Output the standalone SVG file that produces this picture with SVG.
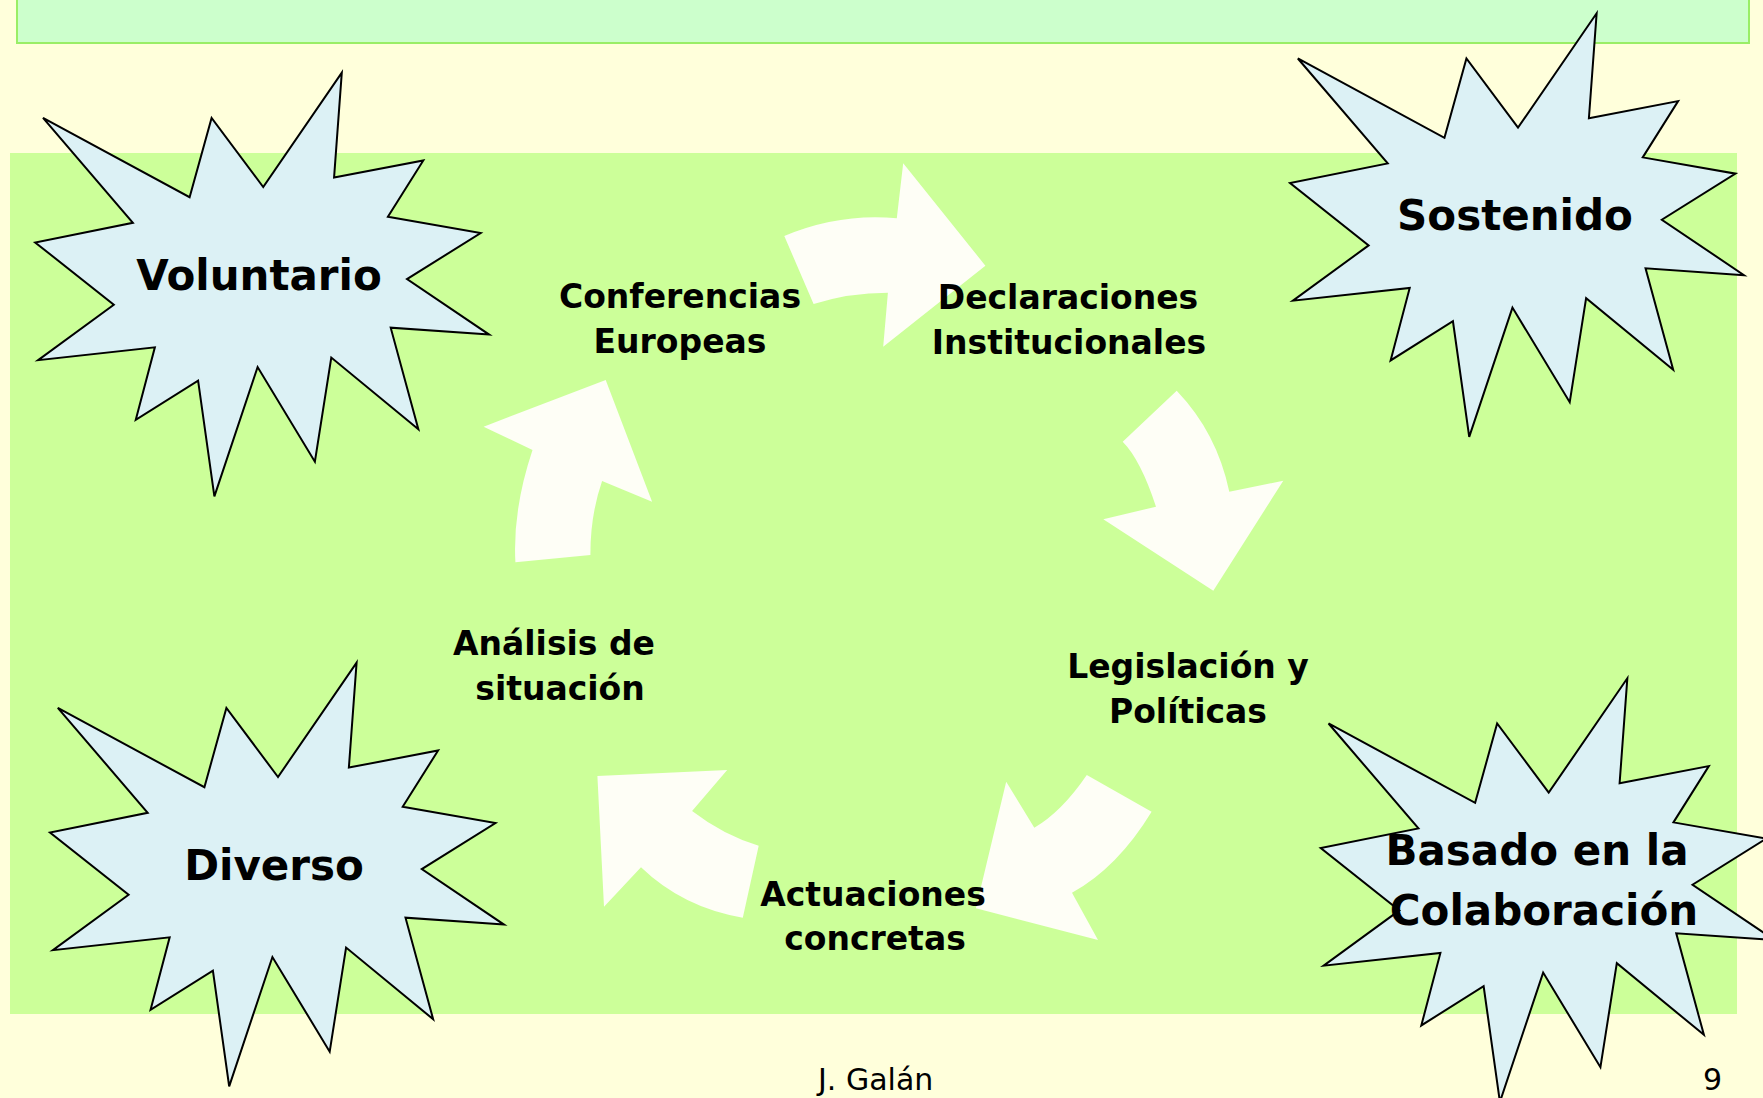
<svg xmlns="http://www.w3.org/2000/svg" xmlns:xlink="http://www.w3.org/1999/xlink" width="1763" height="1098" viewBox="0 0 1763 1098">
<style>
.bg{fill:#FFFFDB}
.panel{fill:#CCFF99}
.banner{fill:#CCFFCC;stroke:#99EE66;stroke-width:2}
.seal{fill:#DCF1F5;stroke:#000;stroke-width:2;stroke-linejoin:miter;vector-effect:non-scaling-stroke}
.arrow{fill:#FEFEF6;stroke:none}
.lbl{font-family:"DejaVu Sans",Verdana,sans-serif;font-weight:bold;font-size:33px;fill:#000;text-anchor:middle}
.big{font-family:"DejaVu Sans",Verdana,sans-serif;font-weight:bold;font-size:42px;fill:#000;text-anchor:middle}
.foot{font-family:"DejaVu Sans",Verdana,sans-serif;font-size:30px;fill:#000}
</style>
<defs>
<path id="seal" class="seal" d="M10901,5905 L8458,2399 L7417,6425 L476,2399 L4732,7722 L106,8718 L3828,11880 L243,14689 L5772,14041 L4868,17719 L7819,15730 L8590,21600 L10637,15038 L13349,19840 L14125,14561 L18248,18195 L16938,13044 L21600,13393 L17710,10579 L21198,8242 L16806,7417 L18482,4560 L14257,5429 L14623,106 Z"/>
</defs>
<rect class="bg" x="0" y="0" width="1763" height="1098"/>
<rect class="panel" x="10" y="153" width="1727" height="861"/>
<rect class="banner" x="17" y="-5" width="1732" height="48"/>

<g id="connectors">
<path class="arrow" d="M784.3,236 Q839.5,212.9 896.8,218.3 L903.2,163.3 L985.4,265.7 L883.2,346.7 L887.9,292.7 Q849.3,292.7 813.6,304 Z"/>
<path class="arrow" d="M1176.7,390.7 Q1217,432.8 1229.3,491.7 L1283.3,480.7 L1213.3,590.7 L1103.3,519.3 L1156,506.7 Q1140.7,459.8 1122.7,441.7 Z"/>
<path class="arrow" d="M1086.8,775 L1151.6,811.7 Q1117.4,867.8 1072,892.7 L1098,940 L975.9,908.3 L1006.2,781.7 L1034.3,827.7 Q1061.5,812 1086.8,775 Z"/>
<path class="arrow" d="M742.8,917.7 Q682.7,907.5 641,867.3 L604,906.7 L597.4,776 L727.2,770 L692.1,811 Q723.2,835 758.7,845.7 Z"/>
<path class="arrow" d="M515.4,562.3 Q512.5,509.9 532.5,450 L483.6,426.7 L605.7,380 L652.1,501.7 L602.1,481 Q590.2,515.4 590.4,555 Z"/>
</g>

<g id="conferencias">
<text class="lbl" x="680" y="308">Conferencias</text>
<text class="lbl" x="680" y="353">Europeas</text>
</g>
<g id="declaraciones">
<text class="lbl" x="1068" y="309">Declaraciones</text>
<text class="lbl" x="1069" y="354">Institucionales</text>
</g>
<g id="legislacion">
<text class="lbl" x="1188" y="678">Legislación y</text>
<text class="lbl" x="1188" y="723">Políticas</text>
</g>
<g id="actuaciones">
<text class="lbl" x="873" y="906">Actuaciones</text>
<text class="lbl" x="875" y="950">concretas</text>
</g>
<g id="analisis">
<text class="lbl" x="554" y="655">Análisis de</text>
<text class="lbl" x="560" y="700">situación</text>
</g>

<g id="voluntario">
<use xlink:href="#seal" href="#seal" transform="translate(32.96,70.6) scale(0.02112,0.01971)"/>
<text class="big" x="259" y="290">Voluntario</text>
</g>
<g id="sostenido">
<use xlink:href="#seal" href="#seal" transform="translate(1287.8,11.2) scale(0.02112,0.01971)"/>
<text class="big" x="1515" y="230">Sostenido</text>
</g>
<g id="diverso">
<use xlink:href="#seal" href="#seal" transform="translate(47.76,660.6) scale(0.02112,0.01971)"/>
<text class="big" x="274" y="880">Diverso</text>
</g>
<g id="basado">
<use xlink:href="#seal" href="#seal" transform="translate(1318.5,676.2) scale(0.02112,0.01971)"/>
<text class="big" x="1537" y="865">Basado en la</text>
<text class="big" x="1544" y="925">Colaboración</text>
</g>

<g id="footer">
<text class="foot" x="818" y="1090">J. Galán</text>
<text class="foot" x="1703" y="1090">9</text>
</g>
</svg>
